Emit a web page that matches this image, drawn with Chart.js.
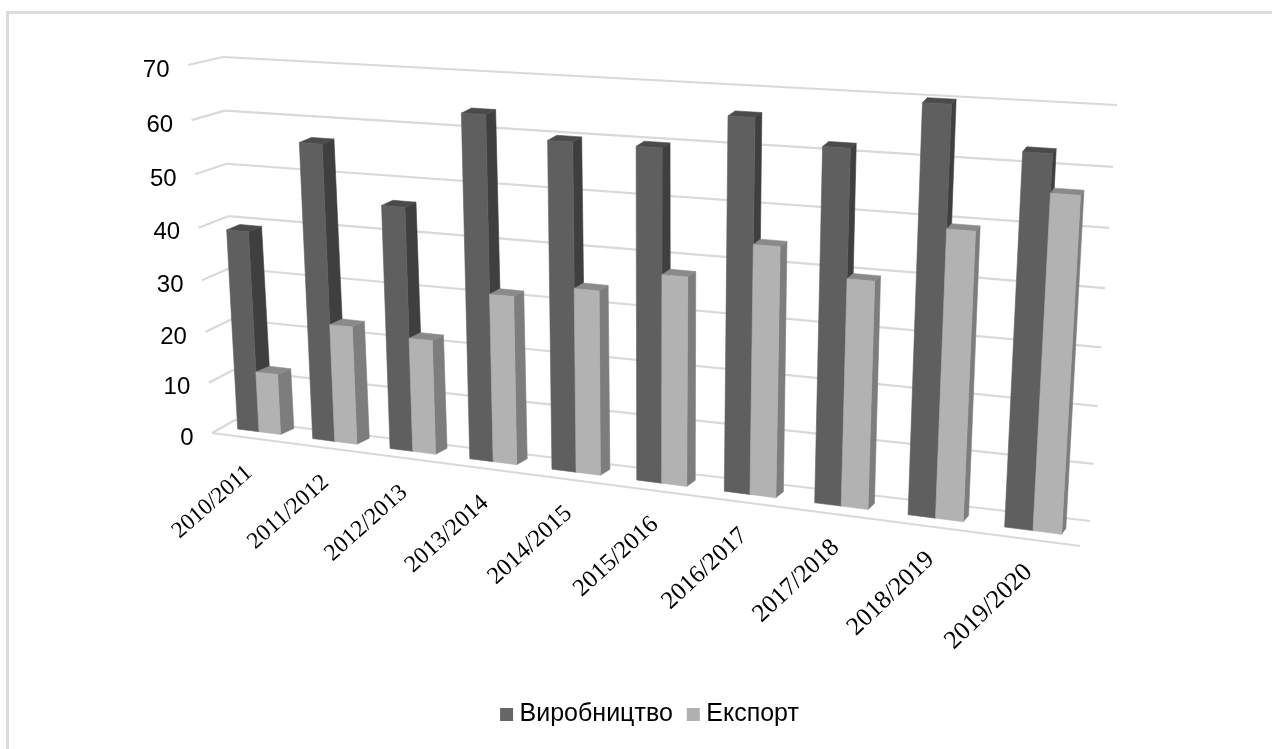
<!DOCTYPE html>
<html>
<head>
<meta charset="utf-8">
<title>Виробництво та експорт</title>
<script src="https://cdn.jsdelivr.net/npm/chart.js@4"></script>
<style>
  html, body { margin: 0; padding: 0; background: #fff; overflow: hidden; }
  #frame { position: absolute; left: 6px; top: 11px; width: 1400px; height: 800px; border: 3px solid #dcdcdc; }
  #chart { position: absolute; left: 0; top: 0; }
</style>
</head>
<body>
<div id="frame"></div>
<canvas id="chart" width="1272" height="749"></canvas>
<script>
// --- Data ---
const categories = ["2010/2011", "2011/2012", "2012/2013", "2013/2014", "2014/2015",
                    "2015/2016", "2016/2017", "2017/2018", "2018/2019", "2019/2020"];
const vyrobnytstvo = [38.8, 56.2, 45.8, 63.4, 59.6, 59.6, 65.7, 61.6, 69.7, 62.8];
const eksport = [11.8, 22.6, 21.6, 31.3, 33.8, 37.7, 44.3, 39.8, 49.5, 56.5];
const yMax = 70;
const yStep = 10;

// --- Perspective planes, corners in order: bottom-left, bottom-right, top-right, top-left ---
const barFront = quad([222, 427], [1083, 537], [1108, 111], [201, 61]);
const barBack = quad([236, 421], [1087, 531], [1111, 106], [214, 56]);
const wallBack = quad([235, 420], [1090, 521], [1117, 105], [223, 57]);
const wallFront = quad([212, 433], [1080, 546], [1110, 108], [188, 65]);

const colors = {
  dark: { front: "#5f5f5f", side: "#3f3f3f", top: "#4b4b4b" },
  light: { front: "#b2b2b2", side: "#7d7d7d", top: "#8a8a8a" }
};

// Square -> quad homography
function quad(p0, p1, p2, p3) {
  const sx = p0[0] - p1[0] + p2[0] - p3[0];
  const sy = p0[1] - p1[1] + p2[1] - p3[1];
  const dx1 = p1[0] - p2[0], dx2 = p3[0] - p2[0];
  const dy1 = p1[1] - p2[1], dy2 = p3[1] - p2[1];
  const den = dx1 * dy2 - dx2 * dy1;
  const g = (sx * dy2 - dx2 * sy) / den;
  const h = (dx1 * sy - sx * dy1) / den;
  const a = p1[0] - p0[0] + g * p1[0];
  const b = p3[0] - p0[0] + h * p3[0];
  const d = p1[1] - p0[1] + g * p1[1];
  const e = p3[1] - p0[1] + h * p3[1];
  return (u, v) => {
    const w = g * u + h * v + 1;
    return [(a * u + b * v + p0[0]) / w, (d * u + e * v + p0[1]) / w];
  };
}

function poly(ctx, pts, fill) {
  ctx.beginPath();
  pts.forEach((p, i) => i ? ctx.lineTo(p[0], p[1]) : ctx.moveTo(p[0], p[1]));
  ctx.closePath();
  ctx.fillStyle = fill;
  ctx.fill();
  // same colour stroke, closes the seams between faces
  ctx.strokeStyle = fill;
  ctx.lineWidth = 0.6;
  ctx.stroke();
}

function line(ctx, a, b) {
  ctx.beginPath();
  ctx.moveTo(a[0], a[1]);
  ctx.lineTo(b[0], b[1]);
  ctx.stroke();
}

// --- Plugin: draws the scales and the bars in the 3D look of the original ---
const perspective3d = {
  id: "perspective3d",

  beforeDatasetsDraw(chart) {
    const { ctx, chartArea: area, scales } = chart;
    const yScale = scales.y;
    ctx.save();

    // walls and floor
    ctx.strokeStyle = "#d9d9d9";
    ctx.lineWidth = 2.2;
    yScale.ticks.forEach(t => {
      const v = (area.bottom - yScale.getPixelForValue(t.value)) / area.height;
      const left = wallBack(0, v);
      line(ctx, wallFront(0, v), left);
      line(ctx, left, wallBack(1, v));
    });
    line(ctx, wallFront(0, 0), wallFront(1, 0));

    // y tick labels run along the slanted front edge
    ctx.fillStyle = "#000";
    ctx.font = "24px 'Liberation Sans'";
    ctx.textAlign = "right";
    ctx.textBaseline = "middle";
    yScale.ticks.forEach(t => {
      const v = (area.bottom - yScale.getPixelForValue(t.value)) / area.height;
      const p = wallFront(0, v);
      ctx.fillText(t.label, p[0] - 18.5, p[1] + 5);
    });

    // x tick labels, they grow and steepen a little towards the near end
    const xScale = scales.x;
    xScale.ticks.forEach((t, i) => {
      const u = (xScale.getPixelForTick(i) - area.left) / area.width;
      const p = barFront(u, 0);
      ctx.save();
      ctx.font = (23 + 3 * u) + "px 'Liberation Serif'";
      ctx.translate(p[0] - 10 + 6 * u, p[1] + 38);
      ctx.rotate(-(41 + 3 * u) * Math.PI / 180);
      ctx.textAlign = "right";
      ctx.textBaseline = "middle";
      ctx.fillText(xScale.getLabelForValue(t.value), 0, 0);
      ctx.restore();
    });

    // bars, left to right so that nearer faces cover the others
    const dark = chart.getDatasetMeta(0).data;
    const light = chart.getDatasetMeta(1).data;
    categories.forEach((c, i) => {
      drawBar(chart, dark[i], colors.dark);
      drawBar(chart, light[i], colors.light);
    });
    ctx.restore();
  },

  // the plugin above already painted the bars
  beforeDatasetDraw() {
    return false;
  }
};

function drawBar(chart, el, col) {
  const { ctx, chartArea: area } = chart;
  const props = el.getProps(["x", "y", "base", "width"], true);
  const u0 = (props.x - props.width / 2 - area.left) / area.width;
  const u1 = (props.x + props.width / 2 - area.left) / area.width;
  const v0 = (area.bottom - props.base) / area.height;
  const v1 = (area.bottom - props.y) / area.height;
  poly(ctx, [barFront(u1, v0), barBack(u1, v0), barBack(u1, v1), barFront(u1, v1)], col.side);
  poly(ctx, [barFront(u0, v1), barFront(u1, v1), barBack(u1, v1), barBack(u0, v1)], col.top);
  poly(ctx, [barFront(u0, v0), barFront(u1, v0), barFront(u1, v1), barFront(u0, v1)], col.front);
}

// --- Chart ---
new Chart(document.getElementById("chart"), {
  type: "bar",
  data: {
    labels: categories,
    datasets: [
      { label: "Виробництво", data: vyrobnytstvo, backgroundColor: "#666666", borderWidth: 0 },
      { label: "Експорт", data: eksport, backgroundColor: "#b0b0b0", borderWidth: 0 }
    ]
  },
  options: {
    responsive: false,
    animation: false,
    layout: { padding: { left: 222, right: 189, top: 65, bottom: 12 } },
    datasets: { bar: { categoryPercentage: 0.575, barPercentage: 1 } },
    scales: {
      x: {
        grid: { display: false },
        border: { display: false },
        ticks: { display: false },
        afterFit: s => { s.height = 239; }
      },
      y: {
        min: 0,
        max: yMax,
        grid: { display: false },
        border: { display: false },
        ticks: { display: false, stepSize: yStep },
        afterFit: s => { s.width = 0; }
      }
    },
    plugins: {
      tooltip: { enabled: false },
      legend: {
        position: "bottom",
        labels: {
          color: "#000",
          font: { family: "'Liberation Sans'", size: 25 },
          usePointStyle: true,
          pointStyle: "rect",
          boxWidth: 1,
          boxHeight: 13,
          padding: 20
        }
      }
    }
  },
  plugins: [perspective3d]
});
</script>
</body>
</html>
